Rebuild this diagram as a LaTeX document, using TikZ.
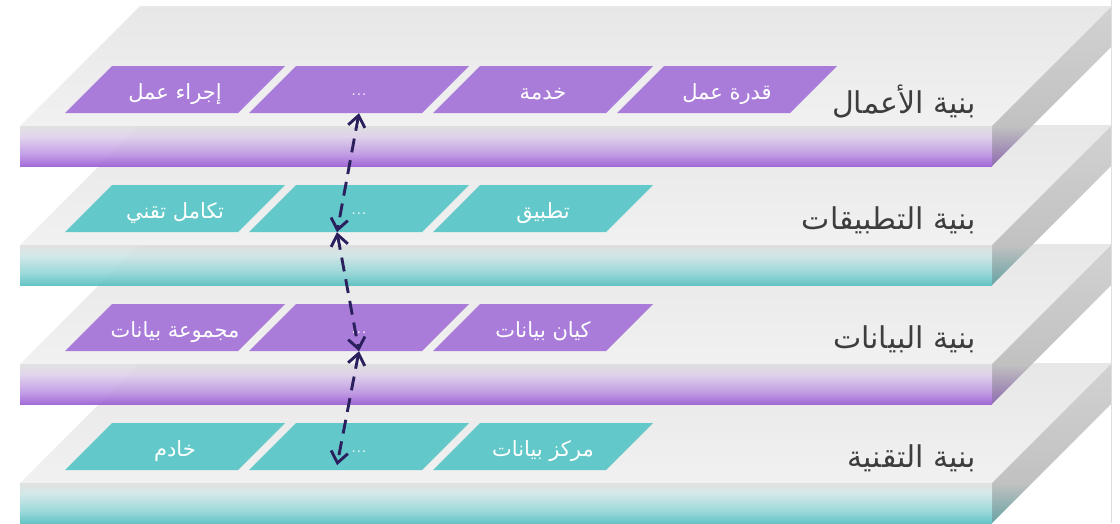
\documentclass[tikz,border=0pt]{standalone}
\usepackage{fontspec}
\usetikzlibrary{arrows.meta}
\TeXXeTstate=1
\newfontfamily\arabicfont[Script=Arabic]{DejaVu Sans}
\newcommand{\ar}[1]{{\arabicfont\beginR #1\endR}}
\newcommand{\moredots}{\raisebox{4pt}{...}}

\definecolor{bizpurple}{HTML}{A97CD9}
\definecolor{appteal}{HTML}{62C8C9}
\definecolor{deeppurple}{HTML}{9A5CD4}
\definecolor{deepteal}{HTML}{55BEC0}
\definecolor{topgray}{HTML}{E7E7E7}
\definecolor{frontgray}{HTML}{F1F1F1}
\definecolor{sidegray}{HTML}{D2D2D2}
\definecolor{linknavy}{HTML}{2B1F5E}
\definecolor{labelgray}{HTML}{3D3D3D}

\pgfdeclareverticalshading{topface}{100bp}{color(0bp)=(frontgray); color(25bp)=(frontgray); color(75bp)=(topgray); color(100bp)=(topgray)}
\pgfdeclareverticalshading{frontP}{100bp}{color(0bp)=(deeppurple); color(25bp)=(deeppurple); color(40bp)=(deeppurple!65!white); color(62bp)=(deeppurple!22!frontgray); color(75bp)=(frontgray!92!black); color(100bp)=(frontgray)}
\pgfdeclareverticalshading{frontT}{100bp}{color(0bp)=(deepteal); color(25bp)=(deepteal); color(40bp)=(deepteal!65!white); color(62bp)=(deepteal!22!frontgray); color(75bp)=(frontgray!92!black); color(100bp)=(frontgray)}
\pgfdeclareverticalshading{sideP}{100bp}{color(0bp)=(deeppurple!55!gray); color(25bp)=(deeppurple!55!gray); color(37.5bp)=(sidegray!92!black); color(75bp)=(sidegray); color(100bp)=(sidegray)}
\pgfdeclareverticalshading{sideT}{100bp}{color(0bp)=(deepteal!55!gray); color(25bp)=(deepteal!55!gray); color(37.5bp)=(sidegray!92!black); color(75bp)=(sidegray); color(100bp)=(sidegray)}

% one tile on a layer: name, centre x, centre y, colour, text
\newcommand{\tile}[5]{%
  \fill[#4] (#2-110,#3+23.5) -- (#2+63,#3+23.5) -- (#2+110,#3-23.5) -- (#2-63,#3-23.5) -- cycle;
  \node[tiletext] (#1) at (#2,#3) {#5};}

\tikzset{
  tiletext/.style={minimum width=173pt, minimum height=47pt, inner sep=0pt, text height=22pt, text depth=2pt, text=white, font=\fontsize{21}{24}\selectfont},
  layerlabel/.style={anchor=east, inner sep=0pt, text=labelgray, font=\fontsize{30}{34}\selectfont},
  link/.style={<->, >={Straight Barb[length=11pt,width=17pt]}, dash pattern=on 14pt off 8pt, line width=2.9pt, draw=linknavy}
}

\begin{document}
\begin{tikzpicture}[x=1pt, y=-1pt]
	\useasboundingbox (0,0) rectangle (1120,523);
	\begin{scope}
		\clip (0,0) rectangle (1111,523);
		% slabs, lowest first
		\foreach \k/\c in {3/T,2/P,1/T,0/P}{
			\pgfmathsetmacro{\F}{126+119*\k}
			\shade[shading=topface] (20,\F) -- (992,\F) -- (1112,\F-120) -- (140,\F-120) -- cycle;
			\shade[shading=side\c] (992,\F) -- (1112,\F-120) -- (1112,\F-80) -- (992,\F+40) -- cycle;
			\shade[shading=front\c, fill opacity=.9] (20,\F) rectangle (992,\F+40);
		}
	\end{scope}
	\draw[draw=black!13, line width=0.8pt] (1111.5,0) -- (1111.5,523);
	% business
	\tile{bizproc}{175}{89.5}{bizpurple}{\ar{إجراء عمل}}
	\tile{bizdots}{359}{89.5}{bizpurple}{\moredots}
	\tile{bizserv}{543}{89.5}{bizpurple}{\ar{خدمة}}
	\tile{bizcap}{727}{89.5}{bizpurple}{\ar{قدرة عمل}}
	\node[layerlabel] (bizlbl) at (976,101) {\ar{بنية الأعمال}};
	% applications
	\tile{appint}{175}{208.5}{appteal}{\ar{تكامل تقني}}
	\tile{appdots}{359}{208.5}{appteal}{\moredots}
	\tile{appapp}{543}{208.5}{appteal}{\ar{تطبيق}}
	\node[layerlabel] (applbl) at (976,220) {\ar{بنية التطبيقات}};
	% data
	\tile{datset}{175}{327.5}{bizpurple}{\ar{مجموعة بيانات}}
	\tile{datdots}{359}{327.5}{bizpurple}{\moredots}
	\tile{datent}{543}{327.5}{bizpurple}{\ar{كيان بيانات}}
	\node[layerlabel] (datlbl) at (976,339) {\ar{بنية البيانات}};
	% technology
	\tile{tecsrv}{175}{446.5}{appteal}{\ar{خادم}}
	\tile{tecdots}{359}{446.5}{appteal}{\moredots}
	\tile{tecdc}{543}{446.5}{appteal}{\ar{مركز بيانات}}
	\node[layerlabel] (teclbl) at (976,458) {\ar{بنية التقنية}};
	% links between layers
	\draw[link] (bizdots.south) -- ([xshift=-22pt]appdots.south);
	\draw[link] ([xshift=-22pt]appdots.south) -- (datdots.south);
	\draw[link] (datdots.south) -- ([xshift=-22pt,yshift=5pt]tecdots.south);
\end{tikzpicture}
\end{document}
